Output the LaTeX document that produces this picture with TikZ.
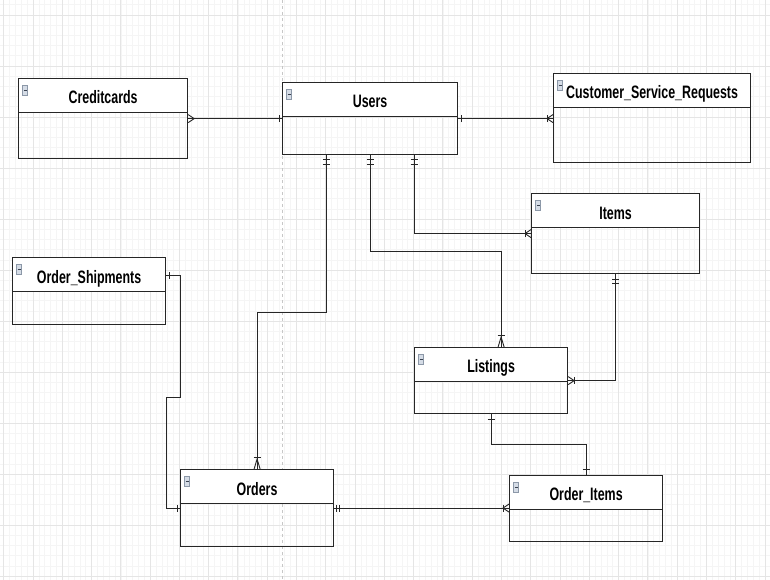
\documentclass[tikz,border=0pt]{standalone}
\usepackage{fontspec}
\newfontfamily\erfont{Liberation Sans}[FakeStretch=0.69]
\usetikzlibrary{decorations.markings}
\definecolor{iconfill}{HTML}{D5DCE6}
\definecolor{iconline}{HTML}{8C98A8}
\definecolor{iconbar}{HTML}{3A4250}
\begin{document}
\begin{tikzpicture}[x=1pt,y=-1pt,
  grid_minor/.style={draw=black!4,line width=.6pt},
  grid_major/.style={draw=black!10,line width=.9pt},
  page_style/.style={draw=black!22,dashed,line width=.8pt},
  icon_style/.style={draw=iconline,fill=iconfill,line width=.5pt},
  entity_style/.style={draw=black!85,line width=1.2pt,anchor=north west,inner sep=0pt,
    path picture={
      \fill[white] (path picture bounding box.north west) rectangle ([yshift=-34pt]path picture bounding box.north east);
      \draw[black!85,line width=1.2pt] ([yshift=-34pt]path picture bounding box.north west) -- ([yshift=-34pt]path picture bounding box.north east);
      \draw[icon_style] ([xshift=4pt,yshift=-7pt]path picture bounding box.north west) rectangle ++(5pt,-10pt);
      \draw[iconbar,line width=1pt] ([xshift=5pt,yshift=-12pt]path picture bounding box.north west) -- ++(3pt,0pt);}},
  title_style/.style={anchor=base,inner sep=0pt,font=\erfont\bfseries\fontsize{18pt}{20pt}\selectfont},
  edge_style/.style={draw=black!85,line width=.9pt},
  bar/.style={postaction={decorate,decoration={markings,mark=at position #1 with {\draw[edge_style] (0pt,-3.5pt) -- (0pt,3.5pt);}}}},
  crow_h/.style={postaction={decorate,decoration={markings,mark=at position -6pt with {\draw[edge_style] (6pt,-4pt) -- (0pt,0pt) -- (6pt,4pt);}}}},
  crow_v/.style={postaction={decorate,decoration={markings,mark=at position -10pt with {\draw[edge_style] (10pt,-3pt) -- (0pt,0pt) -- (10pt,3pt);}}}}]
  \useasboundingbox (0,0) rectangle (770,580);
  % grid
  \foreach \i in {0,...,131} \draw[grid_minor] ({3.7+5.856*\i},0) -- ++(0,580);
  \foreach \j in {0,...,57} \draw[grid_minor] (0,{4.8+10.2*\j}) -- ++(770,0);
  \foreach \i in {0,...,26} \draw[grid_major] ({3.7+29.28*\i},0) -- ++(0,580);
  \foreach \j in {0,...,11} \draw[grid_major] (0,{15+51*\j}) -- ++(770,0);
  \draw[page_style] (282,0) -- (282,580);

  % tables
  \node[entity_style,minimum width=169pt,minimum height=80pt] (cc) at (18,78) {};
  \node[title_style] (cc_title) at ([yshift=-26pt]cc.north) {Creditcards};
  \node[entity_style,minimum width=175pt,minimum height=72pt] (us) at (282,82) {};
  \node[title_style] (us_title) at ([yshift=-26pt]us.north) {Users};
  \node[entity_style,minimum width=197pt,minimum height=89pt] (csr) at (553,73) {};
  \node[title_style] (csr_title) at ([yshift=-26pt]csr.north) {Customer\_Service\_Requests};
  \node[entity_style,minimum width=168pt,minimum height=80pt] (itm) at (531,193) {};
  \node[title_style] (itm_title) at ([yshift=-26pt]itm.north) {Items};
  \node[entity_style,minimum width=153pt,minimum height=66pt] (lst) at (414,347) {};
  \node[title_style] (lst_title) at ([yshift=-25pt]lst.north) {Listings};
  \node[entity_style,minimum width=153pt,minimum height=67pt] (os) at (12,257) {};
  \node[title_style] (os_title) at ([yshift=-26pt]os.north) {Order\_Shipments};
  \node[entity_style,minimum width=153pt,minimum height=77pt] (ord) at (180,469) {};
  \node[title_style] (ord_title) at ([yshift=-26pt]ord.north) {Orders};
  \node[entity_style,minimum width=153pt,minimum height=66pt] (oi) at (509,475) {};
  \node[title_style] (oi_title) at ([yshift=-25pt]oi.north) {Order\_Items};

  % relations
  \draw[edge_style,bar=3pt,crow_h] (us.west) -- (us.west -| cc.east);
  \draw[edge_style,bar=3pt,crow_h,bar=-6pt] (us.east) -- (us.east -| csr.west);
  \draw[edge_style,bar=4pt,bar=9pt,crow_v,bar=-12pt] ([xshift=-44pt]us.south) -- ++(0,157) -| (ord.north);
  \draw[edge_style,bar=4pt,bar=9pt,crow_v,bar=-12pt] (us.south) -- ++(0,96) -| ([xshift=10pt]lst.north);
  \draw[edge_style,bar=4pt,bar=9pt,crow_h,bar=-6pt] ([xshift=44pt]us.south) |- (itm.west);
  \draw[edge_style,bar=5pt,bar=9pt,crow_h,bar=-6pt] (itm.south) |- (lst.east);
  \draw[edge_style,bar=5pt,bar=-6pt] (lst.south) -- ++(0,30) -| (oi.north);
  \draw[edge_style,bar=2pt,bar=5pt,crow_h,bar=-6pt] (ord.east) -- (ord.east -| oi.west);
  \draw[edge_style,bar=3pt,bar=-3pt] ([yshift=16pt]os.east) -- ++(14,0) -- ++(0,122) -- ++(-14,0) |- (ord.west);
\end{tikzpicture}
\end{document}
